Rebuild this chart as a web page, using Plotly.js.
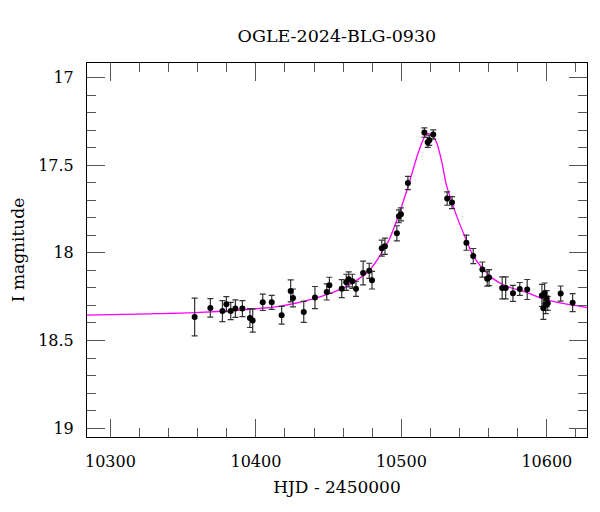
<!DOCTYPE html>
<html>
<head>
<meta charset="utf-8">
<script src="https://cdn.plot.ly/plotly-3.0.1.min.js"></script>
<style>html,body{margin:0;padding:0;background:#fff;}#chart{width:600px;height:512px;}</style>
</head>
<body>
<div id="chart"></div>
<script>
// Observed photometry (HJD - 2450000, I mag, error)
const obsHJD = [10357.9, 10368.7, 10377.0, 10379.7, 10382.7, 10385.9, 10390.7, 10395.9, 10397.8, 10404.7,
  10410.9, 10417.7, 10423.9, 10425.5, 10432.9, 10440.6, 10448.7, 10450.5, 10459.0, 10462.1,
  10463.8, 10466.3, 10468.8, 10473.7, 10477.9, 10479.8, 10486.5, 10488.7, 10496.9, 10498.3,
  10499.7, 10504.5, 10515.8, 10518.1, 10519.2, 10521.9, 10531.5, 10534.8, 10544.7, 10549.4,
  10555.7, 10559.0, 10560.3, 10569.3, 10571.7, 10576.7, 10581.4, 10586.5, 10596.6, 10597.6,
  10598.5, 10599.2, 10599.9, 10600.6, 10609.5, 10617.7];
const obsMag = [18.366, 18.314, 18.332, 18.293, 18.332, 18.318, 18.318, 18.372, 18.386, 18.282,
  18.282, 18.356, 18.217, 18.257, 18.337, 18.255, 18.223, 18.185, 18.204, 18.168,
  18.151, 18.162, 18.205, 18.115, 18.102, 18.156, 17.973, 17.962, 17.888, 17.791,
  17.780, 17.601, 17.313, 17.369, 17.357, 17.324, 17.690, 17.713, 17.942, 18.018,
  18.095, 18.147, 18.141, 18.200, 18.200, 18.231, 18.206, 18.209, 18.243, 18.316,
  18.229, 18.296, 18.261, 18.288, 18.232, 18.284];
const obsErr = [0.108, 0.053, 0.060, 0.043, 0.049, 0.050, 0.046, 0.054, 0.066, 0.047,
  0.040, 0.051, 0.063, 0.051, 0.060, 0.063, 0.046, 0.046, 0.051, 0.046,
  0.043, 0.040, 0.043, 0.068, 0.043, 0.050, 0.046, 0.046, 0.043, 0.037,
  0.037, 0.038, 0.027, 0.029, 0.029, 0.026, 0.038, 0.034, 0.043, 0.043,
  0.043, 0.043, 0.046, 0.063, 0.063, 0.046, 0.037, 0.057, 0.063, 0.063,
  0.057, 0.051, 0.046, 0.040, 0.043, 0.051];

// Model curve
const modelHJD = [10283.9, 10327.0, 10358.0, 10389.0, 10416.0, 10440.0, 10459.0, 10469.0, 10477.0, 10485.0,
  10488.5, 10491.0, 10497.7, 10504.5, 10511.4, 10514.8, 10517.2, 10519.5, 10521.5, 10524.1,
  10527.5, 10530.9, 10535.5, 10540.0, 10544.7, 10549.2, 10556.0, 10563.0, 10572.0, 10585.0,
  10598.5, 10612.0, 10627.6];
const modelMag = [18.355, 18.348, 18.341, 18.326, 18.305, 18.261, 18.204, 18.157, 18.109, 18.020,
  17.966, 17.935, 17.795, 17.624, 17.433, 17.357, 17.322, 17.320, 17.332, 17.367,
  17.470, 17.610, 17.730, 17.833, 17.928, 18.014, 18.090, 18.147, 18.190, 18.223,
  18.265, 18.290, 18.312];

const titleText = "OGLE-2024-BLG-0930";
const xTitle = "HJD - 2450000";
const yTitle = "I magnitude";

const serif = "DejaVu Serif, Liberation Serif, serif";

const traces = [
  {
    x: modelHJD, y: modelMag, type: 'scatter', mode: 'lines',
    line: {color: '#ff00ff', width: 1.3, shape: 'spline', smoothing: 0.8},
    hoverinfo: 'skip', showlegend: false
  },
  {
    x: obsHJD, y: obsMag, type: 'scatter', mode: 'markers',
    marker: {color: '#000', size: 6},
    error_y: {type: 'data', array: obsErr, visible: true, color: '#333', thickness: 1.2, width: 3},
    showlegend: false
  }
];

const axisCommon = {
  showgrid: false, zeroline: false, showline: true, linecolor: '#000', linewidth: 1,
  mirror: 'allticks', ticks: 'inside', ticklen: 18, tickwidth: 1, tickcolor: '#555',
  tickfont: {family: serif, size: 16, color: '#000'}
};

const layout = {
  width: 600, height: 512,
  margin: {l: 87, r: 13, t: 63, b: 75},
  paper_bgcolor: '#fff', plot_bgcolor: '#fff',
  title: {text: titleText, font: {family: serif, size: 17.5, color: '#000'}, x: 0.5615, xanchor: 'center', y: 0.93, yanchor: 'middle'},
  xaxis: Object.assign({}, axisCommon, {
    range: [10283.9, 10627.6], dtick: 100, tick0: 10300, tickformat: 'd',
    ticklabelstandoff: 10,
    minor: {dtick: 20, tick0: 10300, ticks: 'inside', ticklen: 9, tickcolor: '#555', tickwidth: 1},
    title: {text: xTitle, font: {family: serif, size: 17, color: '#000'}, standoff: 10}
  }),
  yaxis: Object.assign({}, axisCommon, {
    range: [19.051, 16.916], dtick: 0.5, tick0: 17,
    ticklabelstandoff: 9,
    minor: {dtick: 0.1, tick0: 17, ticks: 'inside', ticklen: 9, tickcolor: '#555', tickwidth: 1},
    title: {text: yTitle, font: {family: serif, size: 17, color: '#000'}, standoff: 9}
  })
};

Plotly.newPlot('chart', traces, layout, {displayModeBar: false, staticPlot: true});
</script>
</body>
</html>
